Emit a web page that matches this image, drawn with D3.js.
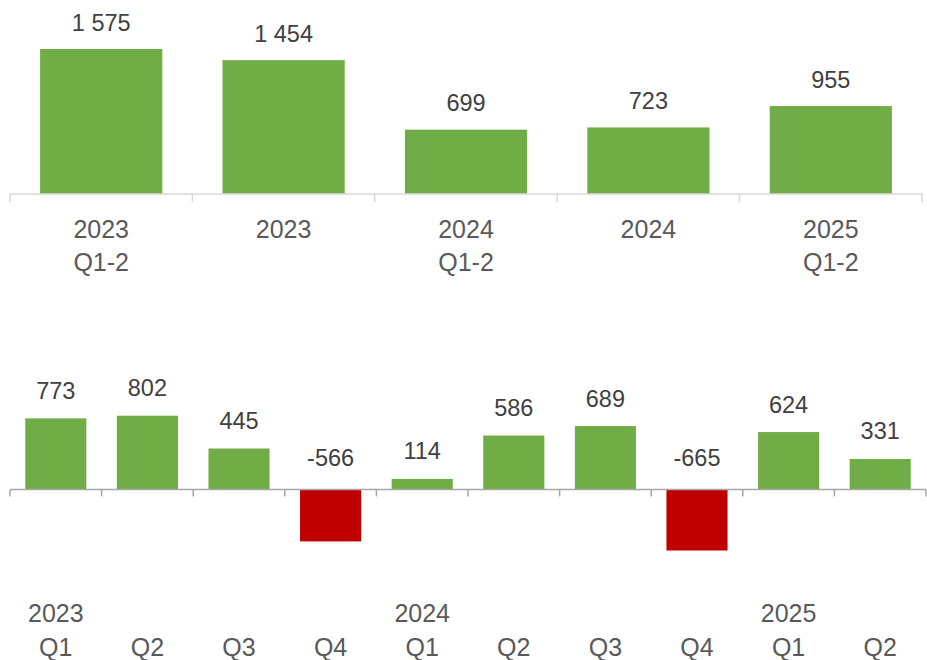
<!DOCTYPE html>
<html>
<head>
<meta charset="utf-8">
<script src="https://cdn.jsdelivr.net/npm/d3@7"></script>
<style>
  body { margin: 0; background: #ffffff; }
  text { font-family: "Liberation Sans", Arial, sans-serif; }
</style>
</head>
<body>
<svg id="chart" width="927" height="660"></svg>
<script>
// ---- Data ----
const topCategories = ["2023 Q1-2", "2023", "2024 Q1-2", "2024", "2025 Q1-2"];
const topLine1 = ["2023", "2023", "2024", "2024", "2025"];
const topLine2 = ["Q1-2", "", "Q1-2", "", "Q1-2"];
const topValues = [1575, 1454, 699, 723, 955];

const bottomCategories = ["2023 Q1", "2023 Q2", "2023 Q3", "2023 Q4", "2024 Q1", "2024 Q2", "2024 Q3", "2024 Q4", "2025 Q1", "2025 Q2"];
const bottomYears = ["2023", "", "", "", "2024", "", "", "", "2025", ""];
const bottomQuarters = ["Q1", "Q2", "Q3", "Q4", "Q1", "Q2", "Q3", "Q4", "Q1", "Q2"];
const bottomValues = [773, 802, 445, -566, 114, 586, 689, -665, 624, 331];

// ---- Style ----
const GREEN = "#70AD47", RED = "#C00000";
const VALUE_COLOR = "#404040", CAT_COLOR = "#595959";
const VAL_SIZE = 23.5, CAT_SIZE = 25;
const fmt = v => d3.format(",")(v).replace(/,/g, " ").replace("\u2212", "-");

const svg = d3.select("#chart");

// ---- Top chart ----
const xTop = d3.scaleBand().domain(topCategories).range([10, 922]).paddingInner(0.33).paddingOuter(0.165);
const xTopBand = d3.scaleBand().domain(topCategories).range([10, 922]);
const yTop = d3.scaleLinear().domain([0, 1575]).range([194, 49]);

const gTop = svg.append("g");
gTop.selectAll("rect").data(topValues).join("rect")
  .attr("x", (d, i) => xTop(topCategories[i]))
  .attr("width", xTop.bandwidth())
  .attr("y", d => yTop(d))
  .attr("height", d => yTop(0) - yTop(d))
  .attr("fill", GREEN);

gTop.append("line").attr("x1", 10).attr("x2", 922).attr("y1", yTop(0)).attr("y2", yTop(0))
  .attr("stroke", "#D9D9D9").attr("stroke-width", 1.5);
const topTicks = topCategories.map(c => xTopBand(c)).concat([922]);
gTop.selectAll("line.tick").data(topTicks).join("line").attr("class", "tick")
  .attr("x1", d => d).attr("x2", d => d)
  .attr("y1", yTop(0)).attr("y2", yTop(0) + 8)
  .attr("stroke", "#D9D9D9").attr("stroke-width", 1.5);

gTop.selectAll("text.val").data(topValues).join("text").attr("class", "val")
  .attr("x", (d, i) => xTopBand(topCategories[i]) + xTopBand.bandwidth() / 2)
  .attr("y", d => yTop(d) - 18.5)
  .attr("text-anchor", "middle").attr("font-size", VAL_SIZE).attr("fill", VALUE_COLOR)
  .text(d => fmt(d));

gTop.selectAll("text.c1").data(topLine1).join("text").attr("class", "c1")
  .attr("x", (d, i) => xTopBand(topCategories[i]) + xTopBand.bandwidth() / 2)
  .attr("y", 237.5)
  .attr("text-anchor", "middle").attr("font-size", CAT_SIZE).attr("fill", CAT_COLOR)
  .text(d => d);
gTop.selectAll("text.c2").data(topLine2).join("text").attr("class", "c2")
  .attr("x", (d, i) => xTopBand(topCategories[i]) + xTopBand.bandwidth() / 2)
  .attr("y", 270.5)
  .attr("text-anchor", "middle").attr("font-size", CAT_SIZE).attr("fill", CAT_COLOR)
  .text(d => d);

// ---- Bottom chart ----
const xBot = d3.scaleBand().domain(bottomCategories).range([10, 926]).paddingInner(0.333).paddingOuter(0.1665);
const xBotBand = d3.scaleBand().domain(bottomCategories).range([10, 926]);
const yBot = d3.scaleLinear().domain([-665, 802]).range([550.5, 415.7]);

const gBot = svg.append("g");
gBot.selectAll("rect").data(bottomValues).join("rect")
  .attr("x", (d, i) => xBot(bottomCategories[i]))
  .attr("width", xBot.bandwidth())
  .attr("y", d => yBot(Math.max(0, d)))
  .attr("height", d => Math.abs(yBot(d) - yBot(0)))
  .attr("fill", d => d < 0 ? RED : GREEN);

gBot.append("line").attr("x1", 10).attr("x2", 926).attr("y1", yBot(0)).attr("y2", yBot(0))
  .attr("stroke", "#A6A6A6").attr("stroke-width", 1.5);
const botTicks = bottomCategories.map(c => xBotBand(c)).concat([926]);
gBot.selectAll("line.tick").data(botTicks).join("line").attr("class", "tick")
  .attr("x1", d => d).attr("x2", d => d)
  .attr("y1", yBot(0)).attr("y2", yBot(0) + 7)
  .attr("stroke", "#A6A6A6").attr("stroke-width", 1.5);

gBot.selectAll("text.val").data(bottomValues).join("text").attr("class", "val")
  .attr("x", (d, i) => xBotBand(bottomCategories[i]) + xBotBand.bandwidth() / 2)
  .attr("y", d => d >= 0 ? yBot(d) - 19.5 : yBot(0) - 23)
  .attr("text-anchor", "middle").attr("font-size", VAL_SIZE).attr("fill", VALUE_COLOR)
  .text(d => fmt(d));

gBot.selectAll("text.yr").data(bottomYears).join("text").attr("class", "yr")
  .attr("x", (d, i) => xBotBand(bottomCategories[i]) + xBotBand.bandwidth() / 2)
  .attr("y", 622)
  .attr("text-anchor", "middle").attr("font-size", CAT_SIZE).attr("fill", CAT_COLOR)
  .text(d => d);
gBot.selectAll("text.q").data(bottomQuarters).join("text").attr("class", "q")
  .attr("x", (d, i) => xBotBand(bottomCategories[i]) + xBotBand.bandwidth() / 2)
  .attr("y", 655.5)
  .attr("text-anchor", "middle").attr("font-size", CAT_SIZE).attr("fill", CAT_COLOR)
  .text(d => d);
</script>
</body>
</html>
